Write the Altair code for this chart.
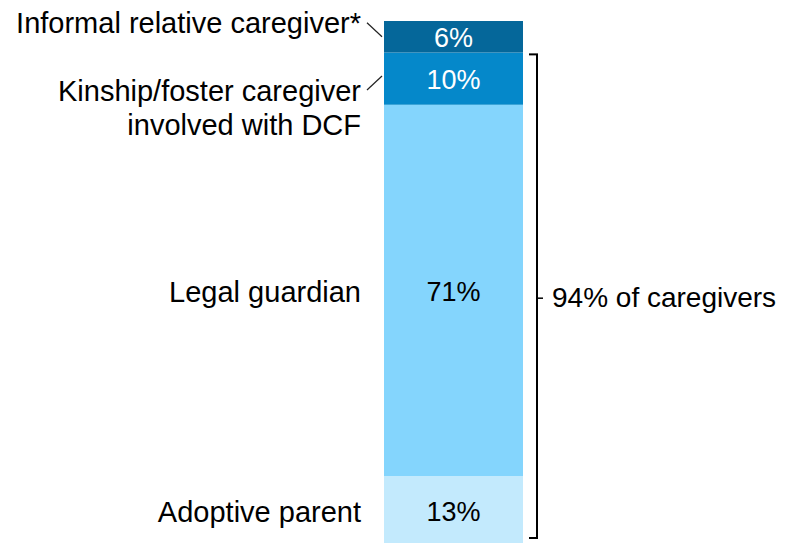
import altair as alt
import pandas as pd

# Data (bottom to top)
categories = ["Adoptive parent", "Legal guardian",
              "Kinship/foster caregiver\ninvolved with DCF", "Informal relative caregiver*"]
values = [13, 71, 10, 6]
pct_labels = ["13%", "71%", "10%", "6%"]
seg_colors = ["#c3eafd", "#84d5fd", "#0588ca", "#05679a"]
text_colors = ["black", "black", "white", "white"]
bracket_label = "94% of caregivers"
bracket_share = 94

FONT = "Liberation Sans"
LFS = 29

ends = pd.Series(values).cumsum()
starts = ends - pd.Series(values)
df = pd.DataFrame({
    "cat": categories,
    "val": values,
    "start": starts,
    "end": ends,
    "mid": (starts + ends) / 2,
    "pct": pct_labels,
    "color": seg_colors,
    "tcolor": text_colors,
})

yscale = alt.Scale(domain=[0, 100], range=[536, 13])
Y = lambda f: alt.Y(f, type="quantitative", scale=yscale, axis=None)

base = alt.Chart(df)

bars = base.mark_rect().encode(
    x=alt.value(376), x2=alt.value(515),
    y=Y("start"), y2="end",
    color=alt.Color("color:N", scale=None),
)

pct = base.mark_text(font=FONT, fontSize=27, align="center", baseline="middle", dy=2.5).encode(
    x=alt.value(445.5), y=Y("mid"), text="pct:N",
    color=alt.Color("tcolor:N", scale=None),
)

lab_plain = base.transform_filter(
    alt.FieldOneOfPredicate(field="cat", oneOf=categories[:2])
).mark_text(font=FONT, fontSize=LFS, align="right", baseline="middle", color="black",
            dy=3).encode(
    x=alt.value(353), y=Y("mid"), text="cat:N")

lab_kin = base.transform_filter(
    alt.FieldEqualPredicate(field="cat", equal=categories[2])
).transform_calculate(lines="split(datum.cat, '\\n')").mark_text(
    font=FONT, fontSize=LFS, align="right", baseline="middle", color="black",
    lineHeight=33.5, dy=13.5).encode(
    x=alt.value(353), y=Y("mid"), text="lines:N")

lab_inf = base.transform_filter(
    alt.FieldEqualPredicate(field="cat", equal=categories[3])
).mark_text(font=FONT, fontSize=LFS, align="right", baseline="middle", color="black",
            dy=-13).encode(
    x=alt.value(353), y=Y("mid"), text="cat:N")

conn_inf = base.transform_filter(
    alt.FieldEqualPredicate(field="cat", equal=categories[3])
).mark_rule(color="#222222", strokeWidth=1.2, yOffset=-14, y2Offset=0).encode(
    x=alt.value(359), x2=alt.value(374), y=Y("mid"), y2="mid")

conn_kin = base.transform_filter(
    alt.FieldEqualPredicate(field="cat", equal=categories[2])
).mark_rule(color="#222222", strokeWidth=1.2, yOffset=11.5, y2Offset=-2.5).encode(
    x=alt.value(359), x2=alt.value(374), y=Y("mid"), y2="mid")

bdf = pd.DataFrame({"lo": [0], "hi": [bracket_share], "mid": [bracket_share / 2],
                    "label": [bracket_label]})
bbase = alt.Chart(bdf)
b_vert = bbase.mark_rule(color="black", strokeWidth=2, yOffset=2, y2Offset=-6).encode(
    x=alt.value(529), y=Y("hi"), y2="lo")
b_top = bbase.mark_rule(color="black", strokeWidth=2, yOffset=2).encode(
    x=alt.value(521), x2=alt.value(530), y=Y("hi"))
b_bot = bbase.mark_rule(color="black", strokeWidth=2, yOffset=-6).encode(
    x=alt.value(521), x2=alt.value(530), y=Y("lo"))
b_mid = bbase.mark_rule(color="black", strokeWidth=1.5).encode(
    x=alt.value(529), x2=alt.value(535), y=Y("mid"))
b_text = bbase.mark_text(font=FONT, fontSize=28, align="left", baseline="middle",
                         color="black", dy=1).encode(
    x=alt.value(544), y=Y("mid"), text="label:N")

chart = alt.layer(
    bars, pct, lab_plain, lab_kin, lab_inf, conn_inf, conn_kin,
    b_vert, b_top, b_bot, b_mid, b_text
).properties(
    width=776, height=540, autosize="none", padding=0
).configure_view(stroke=None)

chart.save("out.html", embed_options={"renderer": "svg", "actions": False})
